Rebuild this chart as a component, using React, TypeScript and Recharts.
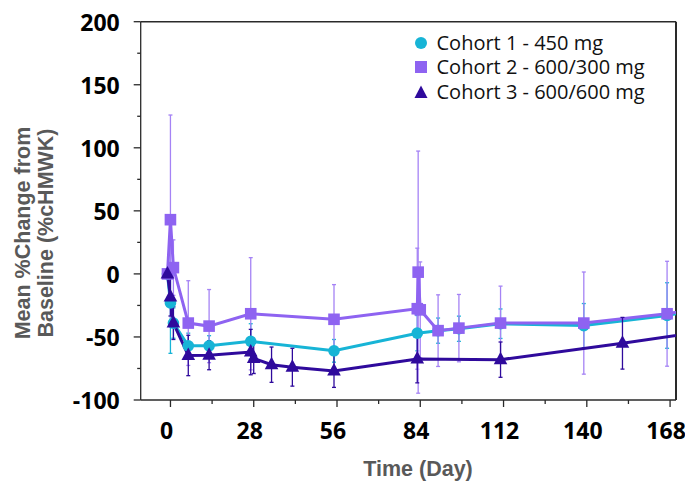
import React from 'react';
import { LineChart, Line, XAxis, YAxis, ErrorBar, ReferenceLine, Legend } from 'recharts';

// ---- data ----
const cohort1Days = [0, 1, 2, 7, 14, 28, 56, 84, 91, 98, 112, 140, 168, 182];
const cohort1Mean = [0, -23, -39, -57, -57, -53.5, -61, -47, -45, -43.5, -39.5, -41, -33, -26];
const cohort1Sd = [0, 40, 12, 10, 8, 14, 9, 14, 10, 10, 11.7, 17.5, 26, 20];

const cohort2Days = [0, 1, 2, 7, 14, 28, 56, 84, 84.3, 85, 91, 98, 112, 140, 168, 182];
const cohort2Mean = [0, 43, 5, -39, -41.4, -31.6, -36, -27.6, 1.4, -28.5, -45, -43, -39, -39, -31.6, -26];
const cohort2Sd = [0, 83, 22, 33.6, 29, 44.5, 27.5, 48, 96, 38, 28.4, 26.7, 29.3, 40.5, 41.6, 40];

const cohort3Days = [0, 1, 2, 7, 14, 28, 29, 35, 42, 56, 84, 112, 153, 182];
const cohort3Mean = [0, -18.4, -39, -64.7, -64.5, -62, -67, -72, -74, -77, -67.4, -68, -55, -45];
const cohort3Sd = [0, 15, 13, 16, 11.5, 18, 12, 14, 15, 13, 19, 14, 20.5, 18];

const seriesNames = ['Cohort 1 - 450 mg', 'Cohort 2 - 600/300 mg', 'Cohort 3 - 600/600 mg'];
const xTicks = [0, 14, 28, 42, 56, 70, 84, 98, 112, 126, 140, 154, 168];
const yTicks = [-100, -75, -50, -25, 0, 25, 50, 75, 100, 125, 150, 175, 200];
const xDomain = [-9, 171];
const yDomain = [-100, 200];
const xTitle = 'Time (Day)';
const yTitleLines = ['Mean %Change from', 'Baseline (%cHMWK)'];

const build = (days: number[], mean: number[], sd: number[]) =>
  days.map((d, i) => ({ day: d, mean: mean[i], sd: sd[i] }));

const data1 = build(cohort1Days, cohort1Mean, cohort1Sd);
const data2 = build(cohort2Days, cohort2Mean, cohort2Sd);
const data3 = build(cohort3Days, cohort3Mean, cohort3Sd);

const C1 = '#17B4D6';
const C2 = '#8E63F1';
const C3 = '#2F0A9C';
const C2E = '#A583F5';
const AXIS = '#2a2a2a';
const TICK_FONT = '"Open Sans", sans-serif';

const circleDot = (p: any) =>
  p.cx == null ? <g key={p.index} /> : <circle key={p.index} cx={p.cx} cy={p.cy} r={5.8} fill={C1} />;
const squareDot = (p: any) =>
  p.cx == null ? <g key={p.index} /> : <rect key={p.index} x={p.cx - 5.8} y={p.cy - 5.8} width={11.6} height={11.6} fill={C2} />;
const triDot = (p: any) =>
  p.cx == null ? (
    <g key={p.index} />
  ) : (
    <polygon key={p.index} points={`${p.cx},${p.cy - 8} ${p.cx - 6.8},${p.cy + 4.5} ${p.cx + 6.8},${p.cy + 4.5}`} fill={C3} />
  );

const XTick = (props: any) => {
  const { x, y, payload } = props;
  const v = payload.value;
  const major = v % 28 === 0;
  return (
    <g>
      <line x1={x + 3} x2={x + 3} y1={y} y2={y + (major ? 7 : 4)} stroke={AXIS} strokeWidth={1.3} />
      {major && (
        <text x={x - 1} y={y + 30} textAnchor="middle" dominantBaseline="central" fontFamily={TICK_FONT} fontWeight={700} fontSize={23} fill="#000">
          {v}
        </text>
      )}
    </g>
  );
};

const YTick = (props: any) => {
  const { x, y, payload } = props;
  const v = payload.value;
  const major = v % 50 === 0;
  return (
    <g>
      <line x1={x - (major ? 7 : 3.5)} x2={x} y1={y} y2={y} stroke={AXIS} strokeWidth={1.3} />
      {major && (
        <text x={x - 21} y={y} textAnchor="end" dominantBaseline="central" fontFamily={TICK_FONT} fontWeight={700} fontSize={23} fill="#000">
          {v}
        </text>
      )}
    </g>
  );
};

const YTitle = () => (
  <g>
    {yTitleLines.map((t, i) => (
      <text
        key={i}
        x={14.5 + i * 23}
        y={233}
        transform={`rotate(-90 ${14.5 + i * 23} 233)`}
        textAnchor="middle"
        dominantBaseline="central"
        fontFamily='"Liberation Sans", Arial, sans-serif'
        fontWeight={700}
        fontSize={21.5}
        fill="#595959"
      >
        {t}
      </text>
    ))}
  </g>
);

const XTitle = () => (
  <text x={410} y={469} textAnchor="middle" dominantBaseline="central" fontFamily='"Liberation Sans", Arial, sans-serif' fontWeight={700} fontSize={21.5} fill="#595959">
    {xTitle}
  </text>
);

const legendMarkers = [
  <circle cx={8} cy={8} r={6} fill={C1} />,
  <rect x={2} y={2} width={12} height={12} fill={C2} />,
  <polygon points="8,1.5 1.5,14 14.5,14" fill={C3} />,
];

const LegendContent = () => (
  <div style={{ fontFamily: '"Open Sans", sans-serif', fontSize: 20, color: '#111' }}>
    {seriesNames.map((n, i) => (
      <div key={n} style={{ height: 24.5, display: 'flex', alignItems: 'center' }}>
        <svg width={16} height={16} style={{ display: 'block' }}>
          {legendMarkers[i]}
        </svg>
        <span style={{ marginLeft: 7.5, lineHeight: '24.5px', whiteSpace: 'nowrap' }}>{n}</span>
      </div>
    ))}
  </div>
);

export default function App() {
  return (
    <div style={{ marginTop: -8, width: 685, height: 487 }}>
      <LineChart width={685} height={487} margin={{ top: 21.7, right: 17, left: 72.7, bottom: 57 }}>
        <XAxis
          dataKey="day"
          type="number"
          domain={xDomain}
          allowDataOverflow
          ticks={xTicks}
          interval={0}
          tick={<XTick />}
          tickLine={false}
          tickSize={0}
          tickMargin={0}
          height={30}
          axisLine={{ stroke: AXIS, strokeWidth: 1.3 }}
          label={{ content: () => <XTitle /> }}
        />
        <YAxis
          type="number"
          domain={yDomain}
          allowDataOverflow
          ticks={yTicks}
          interval={0}
          tick={<YTick />}
          tickLine={false}
          tickSize={0}
          tickMargin={0}
          width={60}
          axisLine={{ stroke: AXIS, strokeWidth: 1.3 }}
          label={{ content: () => <YTitle /> }}
        />
        <ReferenceLine y={200} stroke={AXIS} strokeWidth={1.5} ifOverflow="visible" />
        <ReferenceLine x={171} stroke={AXIS} strokeWidth={2} ifOverflow="visible" />
        <Line data={data1} dataKey="mean" name={seriesNames[0]} type="linear" stroke={C1} strokeWidth={3} dot={circleDot} activeDot={false} isAnimationActive={false}>
          <ErrorBar dataKey="sd" direction="y" width={2} stroke={C1} strokeWidth={1.3} isAnimationActive={false} />
        </Line>
        <Line data={data2} dataKey="mean" name={seriesNames[1]} type="linear" stroke={C2} strokeWidth={3} dot={squareDot} activeDot={false} isAnimationActive={false}>
          <ErrorBar dataKey="sd" direction="y" width={2} stroke={C2E} strokeWidth={1.3} isAnimationActive={false} />
        </Line>
        <Line data={data3} dataKey="mean" name={seriesNames[2]} type="linear" stroke={C3} strokeWidth={3} dot={triDot} activeDot={false} isAnimationActive={false}>
          <ErrorBar dataKey="sd" direction="y" width={2} stroke={C3} strokeWidth={1.3} isAnimationActive={false} />
        </Line>
        <Legend
          layout="vertical"
          align="center"
          verticalAlign="middle"
          content={() => <LegendContent />}
          wrapperStyle={{ position: 'absolute', left: 405, top: 30.5, width: 270 }}
        />
      </LineChart>
    </div>
  );
}
